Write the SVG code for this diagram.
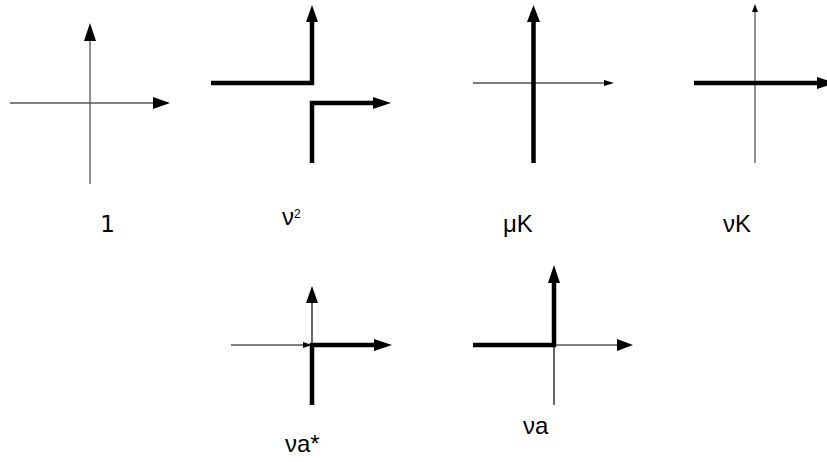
<svg xmlns="http://www.w3.org/2000/svg" width="827" height="462" viewBox="0 0 827 462">
<style>
.thin{stroke:#000;stroke-width:1.2;fill:none}
.gray{stroke:#555;stroke-width:1.3;fill:none}
.thick{stroke:#000;stroke-width:4.5;fill:none;stroke-linejoin:miter;stroke-linecap:butt}
.head{fill:#000;stroke:none}
.lbl{font-family:"Liberation Sans",Arial,sans-serif;font-size:24px;fill:#000}
.one{font-family:"DejaVu Sans",sans-serif;font-size:23px;fill:#000}
</style>
<rect width="827" height="462" fill="#fff"/>
<g id="fig-1">
<line class="gray" x1="90" y1="184" x2="90" y2="40"/>
<polygon class="head" points="90,23 84,41 96,41"/>
<line class="gray" x1="10" y1="103" x2="154" y2="103"/>
<polygon class="head" points="170,103 153,97 153,109"/>
<text class="one" x="107.5" y="232" text-anchor="middle">1</text>
</g>
<g id="fig-nu2">
<polyline class="thick" points="211,83 312,83 312,21"/>
<polygon class="head" points="312,5 306,22 318,22"/>
<polyline class="thick" points="312,163 312,103 374,103"/>
<polygon class="head" points="391,103 373,97 373,109"/>
<text class="lbl" x="282" y="225" font-size="20">ν<tspan font-size="12" dy="-7">2</tspan></text>
</g>
<g id="fig-muK">
<line class="thin" x1="473" y1="83" x2="605" y2="83"/>
<polygon class="head" points="614,83 604,80 604,86"/>
<line class="thick" x1="533.5" y1="163" x2="533.5" y2="21" stroke-width="5.5"/>
<polygon class="head" points="533.5,5 527,22 540,22"/>
<text class="lbl" x="503" y="232">μK</text>
</g>
<g id="fig-nuK">
<line class="gray" x1="755" y1="163" x2="755" y2="11"/>
<polygon class="head" points="755,4 752,12 758,12"/>
<line class="thick" x1="694" y1="83" x2="818" y2="83" stroke-width="5"/>
<polygon class="head" points="835,83 817,77 817,89"/>
<text class="lbl" x="723" y="232">νK</text>
</g>
<g id="fig-nua-star">
<line class="thin" x1="312" y1="343" x2="312" y2="302"/>
<polygon class="head" points="312,286 306,303 318,303"/>
<line class="thin" x1="231" y1="345" x2="304" y2="345"/>
<polygon class="head" points="312,345 303,342 303,348"/>
<polyline class="thick" points="312,405 312,345 375,345"/>
<polygon class="head" points="392,345 374,339 374,351"/>
<text class="lbl" x="285" y="452">νa*</text>
</g>
<g id="fig-nua">
<line class="thin" x1="554" y1="345" x2="554" y2="405"/>
<line class="thin" x1="554" y1="345" x2="618" y2="345"/>
<polygon class="head" points="633,345 617,339 617,351"/>
<polyline class="thick" points="473,345 554,345 554,282"/>
<polygon class="head" points="554,265 548,283 560,283"/>
<text class="lbl" x="523" y="434">νa</text>
</g>
</svg>
